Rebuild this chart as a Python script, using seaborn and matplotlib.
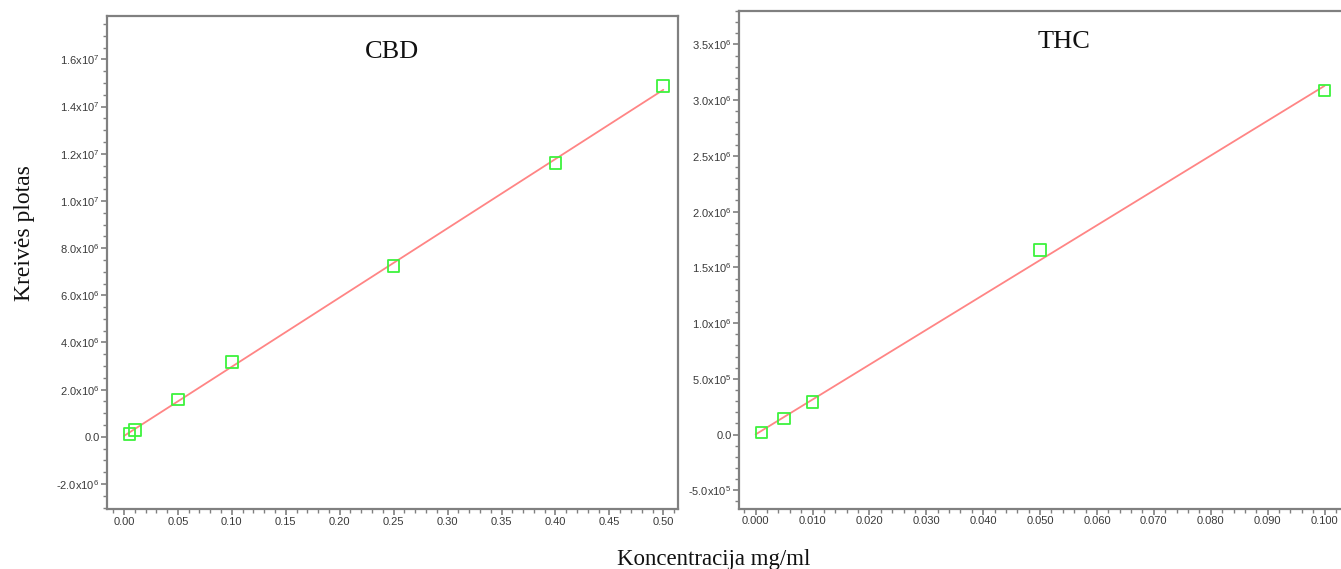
import numpy as np
import pandas as pd
import matplotlib
matplotlib.use("Agg")
import matplotlib.pyplot as plt
from matplotlib.ticker import MultipleLocator, FuncFormatter
import seaborn as sns

# Calibration data: concentration (mg/ml) vs. peak area
cbd_conc = [0.005, 0.01, 0.05, 0.10, 0.25, 0.40, 0.50]
cbd_area = [0.11e6, 0.28e6, 1.58e6, 3.17e6, 7.25e6, 11.6e6, 14.87e6]

thc_conc = [0.001, 0.005, 0.010, 0.050, 0.100]
thc_area = [0.02e6, 0.143e6, 0.293e6, 1.658e6, 3.085e6]

panel_titles = ["CBD", "THC"]
y_label = "Kreivės plotas"
x_label = "Koncentracija mg/ml"

sns.set_theme(style="white")
plt.rcParams["font.family"] = ["Liberation Sans Narrow", "Liberation Sans", "DejaVu Sans"]
plt.rcParams["mathtext.default"] = "regular"
plt.rcParams["axes.unicode_minus"] = False

MARK = "#3df23d"
LINE = "#ff8585"
SPINE = "#808080"
TXT = "#3a3a3a"
SERIF = ["Liberation Serif", "DejaVu Serif"]

fig = plt.figure(figsize=(13.41, 5.69), dpi=100)
ax1 = fig.add_axes([0.0800, 0.1054, 0.4254, 0.8665])
ax2 = fig.add_axes([0.5513, 0.1063, 0.4500, 0.8744])


def sci_label(v, pos):
    if abs(v) < 1e-9:
        return "0.0"
    e = int(np.floor(np.log10(abs(v)) + 1e-9))
    m = abs(v) / 10 ** e
    sign = "-" if v < 0 else ""
    return sign + r"$\mathregular{%.1fx10^{%d}}$" % (m, e)


def draw_panel(ax, conc, area, title, xlim, ylim, xmaj, xmin, ymaj, ymin, xfmt, tx, ty):
    df = pd.DataFrame({"conc": conc, "area": area})
    slope, icpt = np.polyfit(df["conc"], df["area"], 1)
    fit = pd.DataFrame({"conc": [0.0, df["conc"].max()]})
    fit["area"] = slope * fit["conc"] + icpt
    sns.lineplot(data=fit, x="conc", y="area", ax=ax, color=LINE, lw=1.3, zorder=2)
    sns.scatterplot(data=df, x="conc", y="area", ax=ax, marker="s", s=70,
                    facecolors="none", edgecolor=MARK, linewidth=1.3, zorder=3)
    ax.set_xlim(*xlim)
    ax.set_ylim(*ylim)
    ax.xaxis.set_major_locator(MultipleLocator(xmaj))
    ax.xaxis.set_minor_locator(MultipleLocator(xmin))
    ax.yaxis.set_major_locator(MultipleLocator(ymaj))
    ax.yaxis.set_minor_locator(MultipleLocator(ymin))
    ax.xaxis.set_major_formatter(FuncFormatter(lambda v, p: xfmt % v))
    ax.yaxis.set_major_formatter(FuncFormatter(sci_label))
    ax.tick_params(which="major", direction="out", length=4, width=1.2, color=SPINE,
                   labelsize=8, labelcolor=TXT, pad=1.5, bottom=True, left=True)
    ax.tick_params(which="minor", direction="out", length=3, width=1.0, color=SPINE,
                   bottom=True, left=True)
    for s in ax.spines.values():
        s.set_color(SPINE)
        s.set_linewidth(1.6)
    ax.set_xlabel("")
    ax.set_ylabel("")
    ax.text(tx, ty, title, transform=ax.transAxes, ha="center", va="center",
            fontsize=19, family=SERIF, color="#111111")


draw_panel(ax1, cbd_conc, cbd_area, panel_titles[0],
           (-0.0155, 0.5134), (-3.06e6, 1.784e7),
           0.05, 0.01, 2e6, 5e5, "%.2f", 0.499, 0.927)
draw_panel(ax2, thc_conc, thc_area, panel_titles[1],
           (-0.00287, 0.1032), (-6.63e5, 3.80e6),
           0.010, 0.002, 5e5, 1e5, "%.3f", 0.538, 0.938)
ax2.spines["right"].set_visible(False)

fig.text(0.0186, 0.590, y_label, rotation=90, ha="center", va="center",
         fontsize=17, family=SERIF, color="#111111")
fig.text(0.532, 0.016, x_label, ha="center", va="center",
         fontsize=16.5, family=SERIF, color="#111111")

fig.savefig("out.png", dpi=100, facecolor="white")
